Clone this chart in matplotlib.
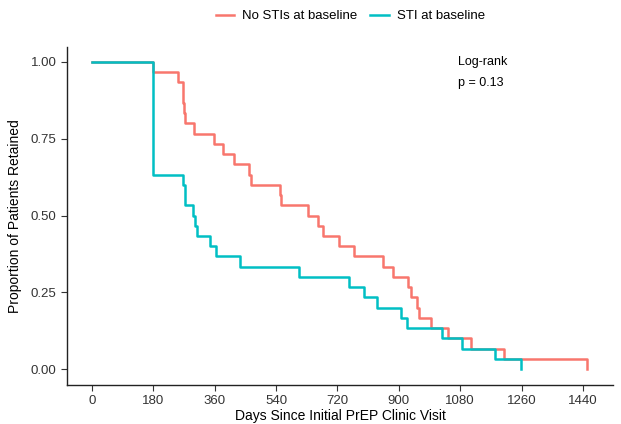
import matplotlib.pyplot as plt
import numpy as np
plt.rcParams["font.family"] = ["Liberation Sans", "DejaVu Sans"]
plt.rcParams.update({'font.size': 10})

## ---------------------------------------------------------------- data
n = 30
# No STIs at baseline
t_no = [0, 178, 253, 267, 271, 274, 299, 358, 385, 417, 460, 466, 551, 554, 634, 664,
        678, 725, 769, 854, 882, 926, 935, 952, 960, 993, 1043, 1113, 1208, 1452]
left_no = [30, 29, 28, 26, 25, 24, 23, 22, 21, 20, 19, 18, 17, 16, 15, 14,
           13, 12, 11, 10, 9, 8, 7, 6, 5, 4, 3, 2, 1, 0]
# STI at baseline
t_sti = [0, 178, 266, 272, 297, 302, 307, 346, 363, 434, 607, 754, 798, 835, 905, 923,
         1028, 1086, 1182, 1257]
left_sti = [30, 19, 18, 16, 15, 14, 13, 12, 11, 10, 9, 8, 7, 6, 5, 4, 3, 2, 1, 0]

labels = ['No STIs at baseline', 'STI at baseline']
colors = ['#F8766D', '#00BFC4']
xticks = [0, 180, 360, 540, 720, 900, 1080, 1260, 1440]
yticks = [0.0, 0.25, 0.5, 0.75, 1.0]

fig = plt.figure(figsize=(6.21, 4.24), dpi=100)
ax = fig.add_axes([0.108, 0.092, 0.879, 0.798])

ax.step(t_no, np.array(left_no) / n, where='post', color=colors[0], lw=1.8, label=labels[0])
ax.step(t_sti, np.array(left_sti) / n, where='post', color=colors[1], lw=1.8, label=labels[1])

ax.text(1073, 1.0, 'Log-rank', fontsize=9, va='center', ha='left')
ax.text(1073, 0.93, 'p = 0.13', fontsize=9, va='center', ha='left')

ax.set_xlim(-73, 1528)
ax.set_ylim(-0.052, 1.05)
ax.set_xticks(xticks)
ax.set_yticks(yticks)
ax.set_yticklabels(['%.2f' % v for v in yticks])
ax.tick_params(direction='out', length=4, width=0.8, colors='#333333', labelsize=9.5,
               labelcolor='#333333')
for s in ['top', 'right']:
    ax.spines[s].set_visible(False)
for s in ['left', 'bottom']:
    ax.spines[s].set_linewidth(1.0)
    ax.spines[s].set_color('#222222')

ax.set_xlabel('Days Since Initial PrEP Clinic Visit', fontsize=10, labelpad=1)
ax.set_ylabel('Proportion of Patients Retained', fontsize=10, labelpad=6)

fig.legend(loc='center', bbox_to_anchor=(0.564, 0.962), ncol=2, frameon=False,
           fontsize=9.5, handlelength=1.4, columnspacing=1.0, handletextpad=0.6)

plt.savefig('out.png')
